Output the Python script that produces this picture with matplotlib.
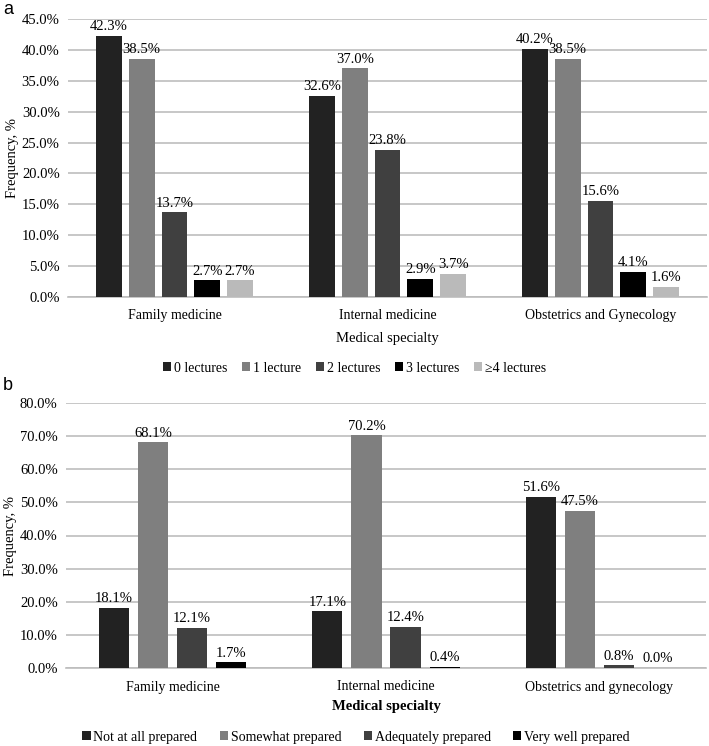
import matplotlib
matplotlib.use("Agg")
import matplotlib.pyplot as plt
import numpy as np
from matplotlib.patches import Patch

plt.rcParams['font.family'] = ['Liberation Serif', 'DejaVu Serif']

specialties_a = ["Family medicine", "Internal medicine", "Obstetrics and Gynecology"]
series_a = ["0 lectures", "1 lecture", "2 lectures", "3 lectures", "\u22654 lectures"]
values_a = {
    "0 lectures": [42.3, 32.6, 40.2],
    "1 lecture": [38.5, 37.0, 38.5],
    "2 lectures": [13.7, 23.8, 15.6],
    "3 lectures": [2.7, 2.9, 4.1],
    "\u22654 lectures": [2.7, 3.7, 1.6],
}
colors_a = ["#222222", "#7f7f7f", "#404040", "#000000", "#bababa"]
yticks_a = [0, 5, 10, 15, 20, 25, 30, 35, 40, 45]

specialties_b = ["Family medicine", "Internal medicine", "Obstetrics and gynecology"]
series_b = ["Not at all prepared", "Somewhat prepared", "Adequately prepared", "Very well prepared"]
values_b = {
    "Not at all prepared": [18.1, 17.1, 51.6],
    "Somewhat prepared": [68.1, 70.2, 47.5],
    "Adequately prepared": [12.1, 12.4, 0.8],
    "Very well prepared": [1.7, 0.4, 0.0],
}
colors_b = ["#222222", "#7f7f7f", "#404040", "#000000"]
yticks_b = [0, 10, 20, 30, 40, 50, 60, 70, 80]

W, H = 709, 746
fig = plt.figure(figsize=(W / 100, H / 100), dpi=100)

def px(l, t, r, b):
    return [l / W, 1 - b / H, (r - l) / W, (b - t) / H]

def draw(ax, cats, series, vals, colors, yticks, width, step, xlabel_bold, xlabelpad):
    x = np.arange(len(cats))
    n = len(series)
    for i, (s, c) in enumerate(zip(series, colors)):
        off = (i - (n - 1) / 2) * step
        bars = ax.bar(x + off, vals[s], width, color=c, zorder=3)
        for rect, v in zip(bars, vals[s]):
            ax.annotate(f"{v:.1f}%", (rect.get_x() + rect.get_width() / 2, v),
                        xytext=(0, 2), textcoords="offset points",
                        ha="center", va="bottom", fontsize=10.5)
    ax.set_xlim(-0.5, len(cats) - 0.5)
    ax.set_ylim(yticks[0], yticks[-1])
    ax.set_yticks(yticks)
    ax.set_yticklabels([f"{t:.1f}%" for t in yticks], fontsize=10.5)
    ax.set_xticks(x)
    ax.set_xticklabels(cats, fontsize=10)
    ax.yaxis.grid(True, color="#bdbdbd", linewidth=1.2, zorder=0)
    for sp in ["top", "right", "left"]:
        ax.spines[sp].set_visible(False)
    ax.spines["bottom"].set_color("#bdbdbd")
    ax.spines["bottom"].set_linewidth(1.2)
    ax.tick_params(axis="y", length=0, pad=6)
    ax.tick_params(axis="x", length=0, pad=9)
    ax.set_ylabel("Frequency, %", fontsize=10.5, labelpad=2)
    ax.set_xlabel("Medical specialty", fontsize=10.5,
                  fontweight="bold" if xlabel_bold else "normal", labelpad=xlabelpad)

ax1 = fig.add_axes(px(68, 19, 707, 297))
draw(ax1, specialties_a, series_a, values_a, colors_a, yticks_a, 0.122, 0.154, False, 7)
h1 = [Patch(facecolor=c, label=s) for s, c in zip(series_a, colors_a)]
fig.legend(handles=h1, loc="center", bbox_to_anchor=(354.5 / W, 1 - 368 / H), ncol=5,
           frameon=False, fontsize=10, handlelength=0.6, handleheight=0.6,
           handletextpad=0.2, columnspacing=1.05)

ax2 = fig.add_axes(px(66, 403, 706, 668))
draw(ax2, specialties_b, series_b, values_b, colors_b, yticks_b, 0.141, 0.183, True, 5)
h2 = [Patch(facecolor=c, label=s) for s, c in zip(series_b, colors_b)]
fig.legend(handles=h2, loc="center", bbox_to_anchor=(356 / W, 1 - 737 / H), ncol=4,
           frameon=False, fontsize=10, handlelength=0.6, handleheight=0.6,
           handletextpad=0.2, columnspacing=1.6)

fig.text(3 / W, 1 - 9 / H, "a", fontsize=13, family="Liberation Sans", va="center")
fig.text(3 / W, 1 - 386 / H, "b", fontsize=13, family="Liberation Sans", va="center")

fig.savefig("out.png", dpi=100)
